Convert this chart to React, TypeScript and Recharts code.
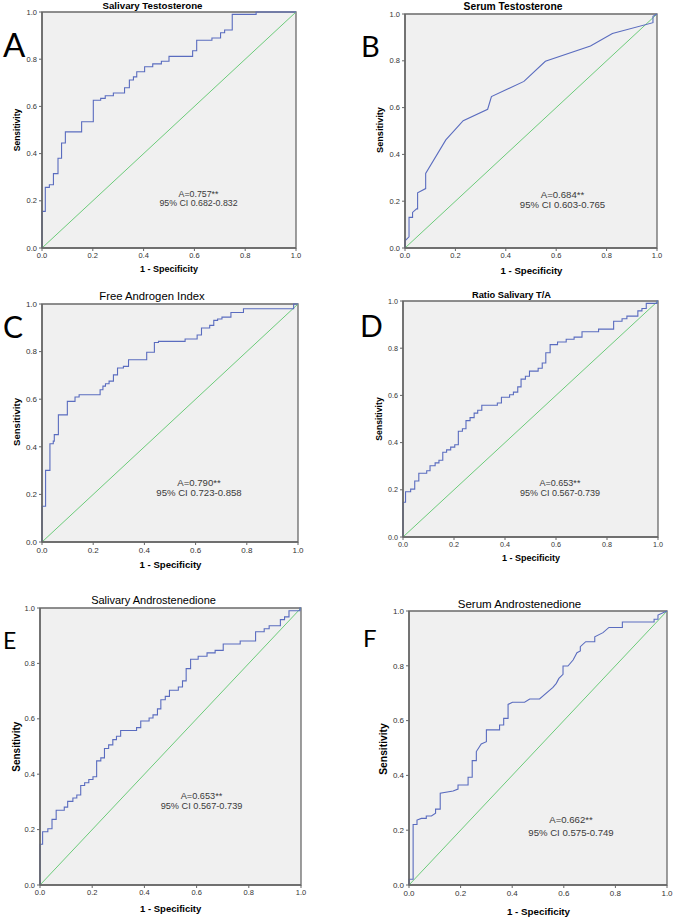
import { LineChart, Line, XAxis, YAxis, ReferenceArea, ReferenceLine } from "recharts";

// ticks shared by both axes of every panel
const axisTicks = [0, 0.2, 0.4, 0.6, 0.8, 1];

// A - Salivary Testosterone (staircase vertices)
const salTestoFpr = [0, 0, 0.013, 0.029, 0.045, 0.063, 0.077, 0.092, 0.156, 0.202, 0.231, 0.249, 0.281, 0.325, 0.344, 0.36, 0.373, 0.404, 0.436, 0.47, 0.5, 0.593, 0.609, 0.669, 0.703, 0.719, 0.749, 0.843, 1];
const salTestoTpr = [0, 0.155, 0.257, 0.268, 0.315, 0.38, 0.445, 0.492, 0.535, 0.626, 0.634, 0.645, 0.657, 0.679, 0.712, 0.725, 0.747, 0.768, 0.78, 0.791, 0.812, 0.836, 0.88, 0.89, 0.912, 0.924, 0.99, 1, 1];

// B - Serum Testosterone (few cut-offs, mostly straight segments)
const serTestoFpr = [0, 0, 0.016, 0.016, 0.03, 0.03, 0.046, 0.05, 0.05, 0.082, 0.082, 0.162, 0.231, 0.328, 0.343, 0.472, 0.557, 0.736, 0.823, 0.984, 0.984, 1];
const serTestoTpr = [0, 0.031, 0.048, 0.131, 0.131, 0.152, 0.167, 0.167, 0.236, 0.254, 0.319, 0.462, 0.544, 0.593, 0.647, 0.712, 0.798, 0.863, 0.917, 0.963, 0.99, 1];

// C - Free Androgen Index
const faiFpr = [0, 0, 0.014, 0.031, 0.044, 0.048, 0.064, 0.099, 0.129, 0.145, 0.227, 0.238, 0.248, 0.262, 0.279, 0.295, 0.318, 0.338, 0.409, 0.439, 0.455, 0.559, 0.606, 0.623, 0.655, 0.671, 0.686, 0.703, 0.738, 0.787, 0.983, 1];
const faiTpr = [0, 0.15, 0.301, 0.413, 0.424, 0.451, 0.534, 0.591, 0.609, 0.619, 0.64, 0.655, 0.665, 0.676, 0.702, 0.731, 0.738, 0.766, 0.797, 0.838, 0.843, 0.853, 0.87, 0.899, 0.91, 0.931, 0.937, 0.945, 0.964, 0.98, 1, 1];

// D - Ratio Salivary T/A
const ratioFpr = [0, 0, 0.01, 0.03, 0.046, 0.062, 0.093, 0.106, 0.126, 0.141, 0.156, 0.171, 0.187, 0.203, 0.217, 0.233, 0.247, 0.263, 0.279, 0.293, 0.309, 0.37, 0.386, 0.418, 0.433, 0.45, 0.463, 0.48, 0.496, 0.53, 0.546, 0.56, 0.577, 0.606, 0.64, 0.671, 0.702, 0.767, 0.826, 0.859, 0.878, 0.921, 0.937, 0.954, 0.996, 1];
const ratioTpr = [0, 0.147, 0.192, 0.203, 0.237, 0.27, 0.281, 0.302, 0.314, 0.325, 0.359, 0.369, 0.381, 0.391, 0.448, 0.459, 0.493, 0.506, 0.525, 0.537, 0.558, 0.568, 0.592, 0.603, 0.614, 0.636, 0.669, 0.681, 0.703, 0.715, 0.737, 0.781, 0.815, 0.826, 0.838, 0.847, 0.87, 0.881, 0.914, 0.925, 0.936, 0.958, 0.968, 0.99, 1, 1];

// E - Salivary Androstenedione (the published curve is identical to D)
const salAndroFpr = ratioFpr;
const salAndroTpr = ratioTpr;

// F - Serum Androstenedione
const serAndroFpr = [0, 0, 0.016, 0.016, 0.031, 0.031, 0.048, 0.067, 0.067, 0.087, 0.103, 0.103, 0.121, 0.121, 0.171, 0.19, 0.19, 0.229, 0.229, 0.245, 0.245, 0.261, 0.261, 0.28, 0.3, 0.3, 0.351, 0.351, 0.367, 0.367, 0.384, 0.384, 0.401, 0.448, 0.468, 0.506, 0.558, 0.571, 0.581, 0.597, 0.597, 0.616, 0.636, 0.651, 0.664, 0.664, 0.685, 0.72, 0.72, 0.752, 0.775, 0.827, 0.827, 0.95, 0.95, 0.965, 0.965, 1];
const serAndroTpr = [0, 0.021, 0.021, 0.221, 0.221, 0.237, 0.243, 0.243, 0.252, 0.252, 0.262, 0.277, 0.277, 0.335, 0.343, 0.35, 0.365, 0.365, 0.393, 0.393, 0.454, 0.454, 0.487, 0.515, 0.523, 0.566, 0.566, 0.584, 0.584, 0.608, 0.608, 0.659, 0.667, 0.667, 0.679, 0.679, 0.721, 0.736, 0.754, 0.769, 0.799, 0.799, 0.821, 0.848, 0.854, 0.87, 0.888, 0.888, 0.906, 0.921, 0.94, 0.94, 0.96, 0.96, 0.97, 0.97, 0.985, 1];

const FONT = '"Liberation Sans", Arial, sans-serif';
const ML = 40;
const MR = 6;
const MT = 6;
const MB = 28;

type Curve = "stepAfter" | "linear";

interface PanelDef {
  key: string;
  fpr: number[];
  tpr: number[];
  curve: Curve;
  box: [number, number, number, number];
  tickFont: number;
  letter: { x: number; y: number; size: number };
  title: { text: string; x: number; y: number; size: number; weight: number };
  xLabel: { x: number; y: number; size: number };
  yLabel: { x: number; y: number; size: number };
  note: { lines: string[]; x: number; y: number[]; size: number };
}

const panels: PanelDef[] = [
  {
    key: "A", fpr: salTestoFpr, tpr: salTestoTpr, curve: "stepAfter", box: [42, 12, 296, 248], tickFont: 7.5,
    letter: { x: 3, y: 57, size: 33 },
    title: { text: "Salivary Testosterone", x: 152.5, y: 9, size: 9.7, weight: 700 },
    xLabel: { x: 169, y: 272, size: 9 },
    yLabel: { x: 19.5, y: 130, size: 8.5 },
    note: { lines: ["A=0.757**", "95% CI 0.682-0.832"], x: 198.5, y: [196.5, 206], size: 8.8 },
  },
  {
    key: "B", fpr: serTestoFpr, tpr: serTestoTpr, curve: "linear", box: [405, 14, 657, 248], tickFont: 7.5,
    letter: { x: 361, y: 57, size: 29 },
    title: { text: "Serum Testosterone", x: 513, y: 9.7, size: 10.3, weight: 700 },
    xLabel: { x: 531.5, y: 273.5, size: 9.6 },
    yLabel: { x: 382.5, y: 130, size: 9.2 },
    note: { lines: ["A=0.684**", "95% CI 0.603-0.765"], x: 562.5, y: [197.5, 207.5], size: 9.6 },
  },
  {
    key: "C", fpr: faiFpr, tpr: faiTpr, curve: "stepAfter", box: [42, 304, 298, 542], tickFont: 8,
    letter: { x: 3, y: 338, size: 30 },
    title: { text: "Free Androgen Index", x: 152, y: 300.3, size: 11.3, weight: 400 },
    xLabel: { x: 170.5, y: 568, size: 9.6 },
    yLabel: { x: 19.6, y: 422, size: 9.6 },
    note: { lines: ["A=0.790**", "95% CI 0.723-0.858"], x: 199, y: [486, 495.7], size: 9.6 },
  },
  {
    key: "D", fpr: ratioFpr, tpr: ratioTpr, curve: "stepAfter", box: [403, 301, 658, 537], tickFont: 7.2,
    letter: { x: 360, y: 337, size: 30 },
    title: { text: "Ratio Salivary T/A", x: 511.5, y: 297.7, size: 9.3, weight: 700 },
    xLabel: { x: 531, y: 561, size: 9 },
    yLabel: { x: 382, y: 419, size: 8.7 },
    note: { lines: ["A=0.653**", "95% CI 0.567-0.739"], x: 560, y: [486, 495.7], size: 9 },
  },
  {
    key: "E", fpr: salAndroFpr, tpr: salAndroTpr, curve: "stepAfter", box: [40, 608, 301, 885], tickFont: 7.5,
    letter: { x: 3, y: 649, size: 23 },
    title: { text: "Salivary Androstenedione", x: 153.5, y: 604, size: 11, weight: 400 },
    xLabel: { x: 170.7, y: 912.3, size: 9.5 },
    yLabel: { x: 19.5, y: 746.7, size: 10 },
    note: { lines: ["A=0.653**", "95% CI 0.567-0.739"], x: 201.5, y: [799.3, 809], size: 9.2 },
  },
  {
    key: "F", fpr: serAndroFpr, tpr: serAndroTpr, curve: "linear", box: [409, 611, 667, 885], tickFont: 8,
    letter: { x: 363, y: 647, size: 24 },
    title: { text: "Serum Androstenedione", x: 519.5, y: 608, size: 11.5, weight: 400 },
    xLabel: { x: 538.5, y: 914.7, size: 9.8 },
    yLabel: { x: 386.7, y: 749, size: 10.3 },
    note: { lines: ["A=0.662**", "95% CI 0.575-0.749"], x: 571, y: [823.3, 835.7], size: 9.6 },
  },
];

function RocChart({ p }: { p: PanelDef }) {
  const data = p.fpr.map((x, i) => ({ fpr: x, tpr: p.tpr[i] }));
  const [x0, y0, x1, y1] = p.box;
  const tick = { fontSize: p.tickFont, fill: "#333" };
  return (
    <div style={{ position: "absolute", left: x0 - ML, top: y0 - MT }}>
      <LineChart
        width={x1 - x0 + ML + MR}
        height={y1 - y0 + MT + MB}
        data={data}
        margin={{ top: MT, right: MR, bottom: 0, left: 0 }}
      >
        <XAxis
          type="number"
          dataKey="fpr"
          domain={[0, 1]}
          ticks={axisTicks}
          interval={0}
          height={MB}
          tickSize={3}
          tickMargin={2}
          tick={tick}
          tickLine={{ stroke: "#666" }}
          axisLine={{ stroke: "#666", strokeWidth: 1.5 }}
          tickFormatter={(v: number) => v.toFixed(1)}
        />
        <YAxis
          type="number"
          domain={[0, 1]}
          ticks={axisTicks}
          interval={0}
          width={ML}
          tickSize={3}
          tickMargin={2}
          tick={tick}
          tickLine={{ stroke: "#666" }}
          axisLine={{ stroke: "#666", strokeWidth: 1.5 }}
          tickFormatter={(v: number) => v.toFixed(1)}
        />
        <ReferenceArea x1={0} x2={1} y1={0} y2={1} fill="#f0f0f0" fillOpacity={1} stroke="#6a6a6a" strokeWidth={1.3} />
        {/* chance diagonal */}
        <ReferenceLine segment={[{ x: 0, y: 0 }, { x: 1, y: 1 }]} stroke="#6ccb7a" strokeWidth={1} />
        <Line
          type={p.curve}
          dataKey="tpr"
          stroke="#5a6cbf"
          strokeWidth={1.1}
          dot={false}
          isAnimationActive={false}
        />
      </LineChart>
    </div>
  );
}

export default function App() {
  return (
    <div
      style={{
        position: "absolute",
        left: 0,
        top: 0,
        width: 675,
        height: 921,
        background: "#fff",
        fontFamily: FONT,
      }}
    >
      {panels.map((p) => (
        <RocChart key={p.key} p={p} />
      ))}
      <svg
        width={675}
        height={921}
        style={{ position: "absolute", left: 0, top: 0, pointerEvents: "none" }}
        fontFamily={FONT}
      >
        {panels.map((p) => (
          <g key={p.key}>
            <text x={p.letter.x} y={p.letter.y} fontSize={p.letter.size} fontFamily="Lato, sans-serif" fill="#000">
              {p.key}
            </text>
            <text x={p.title.x} y={p.title.y} textAnchor="middle" fontSize={p.title.size} fontWeight={p.title.weight} fill="#000">
              {p.title.text}
            </text>
            <text x={p.xLabel.x} y={p.xLabel.y} textAnchor="middle" fontSize={p.xLabel.size} fontWeight={700} fill="#000">
              1 - Specificity
            </text>
            <text
              transform={`translate(${p.yLabel.x},${p.yLabel.y}) rotate(-90)`}
              textAnchor="middle"
              fontSize={p.yLabel.size}
              fontWeight={700}
              fill="#000"
            >
              Sensitivity
            </text>
            {p.note.lines.map((line, i) => (
              <text key={i} x={p.note.x} y={p.note.y[i]} textAnchor="middle" fontSize={p.note.size} fill="#3a3a3a">
                {line}
              </text>
            ))}
          </g>
        ))}
      </svg>
    </div>
  );
}
